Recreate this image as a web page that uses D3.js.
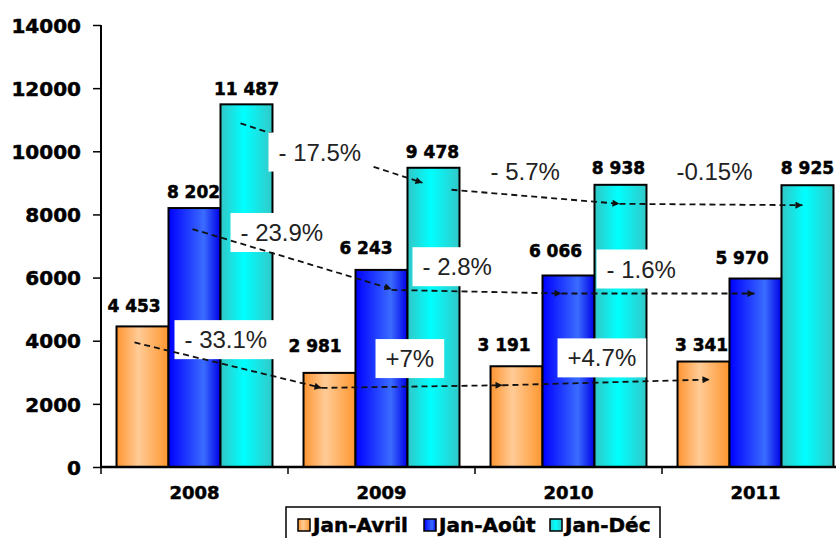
<!DOCTYPE html>
<html>
<head>
<meta charset="utf-8">
<script src="https://cdn.jsdelivr.net/npm/d3@7"></script>
<style>
  body { margin: 0; background: #fff; }
  svg { display: block; }
  .heavy { font-family: "DejaVu Sans", Verdana, sans-serif; font-weight: bold; stroke: #000; stroke-width: 0.5px; fill: #000; }
</style>
</head>
<body>
<div id="chart"></div>
<script>
// data
var years = ["2008", "2009", "2010", "2011"];
var seriesNames = ["Jan-Avril", "Jan-Août", "Jan-Déc"];
var janAvril = [4453, 2981, 3191, 3341];
var janAout = [8202, 6243, 6066, 5970];
var janDec = [11487, 9478, 8938, 8925];
var yTicks = [0, 2000, 4000, 6000, 8000, 10000, 12000, 14000];
// year to year change, one list per series
var changeAvril = ["- 33.1%", "+7%", "+4.7%"];
var changeAout = ["- 23.9%", "- 2.8%", "- 1.6%"];
var changeDec = ["- 17.5%", "- 5.7%", "-0.15%"];

var seriesValues = [janAvril, janAout, janDec];
var seriesChanges = [changeAvril, changeAout, changeDec];

// hand placed bits, as in the original sheet (pixel offsets)
var labelDx = [[-8.5, -14.5, -12.5, -2], [-1, -15.5, -13, -13.5], [0, -1, -2, 0]];
var labelGap = [[14, 21, 15, 11], [10, 16, 18, 15], [9, 10, 11, 11]];
// arrow ends: [startDx, startDy, endDx, endDy] from bar centre / bar top
var arrowOff = [
  [[-8, 16, -8, 15], [-8, 15, -14, 19], [-14, 19, 6, 18]],
  [[-2, 21, 10, 19], [10, 20, -7, 18], [-7, 18, -1, 15]],
  [[-6, 19, -11, 15], [18, 22, -1, 19], [-1, 19, -5, 20]]
];
// change text position from arrow midpoint
var changeOff = [
  [[-43.5, -17], [-26.5, -19.5], [-38.5, -16]],
  [[-51.5, -18], [-54, -16.5], [-51.5, -16]],
  [[-53, 7.5], [-45, -17], [-34.5, -24.5]]
];
var underBox = [[false, false, false], [false, false, false], [true, false, false]];

var width = 836, height = 538;
var svg = d3.select("#chart").append("svg")
    .attr("width", width)
    .attr("height", height);

var defs = svg.append("defs");
var grads = [
  [["0%", "#ff9430"], ["42%", "#ffcb96"], ["100%", "#ff962e"]],
  [["0%", "#0000ff"], ["68%", "#3a6cff"], ["100%", "#0000e6"]],
  [["0%", "#33c6c6"], ["45%", "#00ffff"], ["100%", "#33c8c8"]]
];
grads.forEach(function(g, i) {
  var lg = defs.append("linearGradient").attr("id", "g" + i)
      .attr("x1", "0%").attr("x2", "100%").attr("y1", "0%").attr("y2", "0%");
  g.forEach(function(s) {
    lg.append("stop").attr("offset", s[0]).attr("stop-color", s[1]);
  });
});
defs.append("marker")
    .attr("id", "arrow")
    .attr("viewBox", "0 0 10 10")
    .attr("refX", 10).attr("refY", 5)
    .attr("markerWidth", 10).attr("markerHeight", 7)
    .attr("markerUnits", "userSpaceOnUse")
    .attr("orient", "auto")
  .append("path")
    .attr("d", "M0,0L10,5L0,10Z")
    .attr("fill", "#111");

var y = d3.scaleLinear().domain([0, 14000]).range([467, 25]);
var x0 = d3.scaleBand().domain(years).range([101, 849])
    .paddingInner(0.166).paddingOuter(0.083);
var x1 = d3.scaleBand().domain(seriesNames).range([0, x0.bandwidth()]);

var fmt = d3.formatLocale({decimal: ",", thousands: " ", grouping: [3], currency: ["", ""]}).format(",");

function cx(s, i) {
  return x0(years[i]) + x1(seriesNames[s]) + x1.bandwidth() / 2;
}

// axes
var yAxis = svg.append("g").attr("transform", "translate(101,0)")
    .call(d3.axisLeft(y).tickValues(yTicks).tickSize(8).tickPadding(12).tickFormat(d3.format("d")));
yAxis.select(".domain").attr("d", "M0," + y(14000) + "V" + y(0)).attr("stroke-width", 2);
yAxis.selectAll(".tick line").attr("stroke-width", 1.5);
yAxis.selectAll("text")
    .attr("class", "heavy")
    .attr("dy", "0.36em")
    .style("font-size", "20px");

// bars
seriesValues.forEach(function(vals, s) {
  svg.append("g").selectAll("rect").data(vals).enter().append("rect")
      .attr("x", function(d, i) { return x0(years[i]) + x1(seriesNames[s]); })
      .attr("y", function(d) { return y(d); })
      .attr("width", x1.bandwidth())
      .attr("height", function(d) { return y(0) - y(d); })
      .attr("fill", "url(#g" + s + ")")
      .attr("stroke", "#000")
      .attr("stroke-width", 2);
});

// x axis
var step = x0.step();
svg.append("line")
    .attr("x1", 101).attr("x2", 836).attr("y1", y(0)).attr("y2", y(0))
    .attr("stroke", "#000").attr("stroke-width", 2.5);
svg.append("g").selectAll("line").data(d3.range(years.length + 1)).enter().append("line")
    .attr("x1", function(d) { return 101 + d * step; })
    .attr("x2", function(d) { return 101 + d * step; })
    .attr("y1", y(0)).attr("y2", y(0) + 7)
    .attr("stroke", "#000").attr("stroke-width", 1.5);
svg.append("g").selectAll("text").data(years).enter().append("text")
    .attr("class", "heavy")
    .attr("x", function(d) { return x0(d) + x0.bandwidth() / 2; })
    .attr("y", 499)
    .attr("text-anchor", "middle")
    .style("font-size", "18px")
    .text(function(d) { return d; });

// value labels
seriesValues.forEach(function(vals, s) {
  svg.append("g").selectAll("text").data(vals).enter().append("text")
      .attr("class", "heavy")
      .attr("x", function(d, i) { return cx(s, i) + labelDx[s][i]; })
      .attr("y", function(d, i) { return y(d) - labelGap[s][i]; })
      .attr("text-anchor", "middle")
      .style("font-size", "17px")
      .text(function(d) { return fmt(d); });
});

// change arrows + labels
var arrows = [];
seriesValues.forEach(function(vals, s) {
  for (var i = 0; i < vals.length - 1; i++) {
    var o = arrowOff[s][i];
    var a = {
      x1: cx(s, i) + o[0], y1: y(vals[i]) + o[1],
      x2: cx(s, i + 1) + o[2], y2: y(vals[i + 1]) + o[3],
      text: seriesChanges[s][i], under: underBox[s][i]
    };
    a.tx = (a.x1 + a.x2) / 2 + changeOff[s][i][0];
    a.ty = (a.y1 + a.y2) / 2 + changeOff[s][i][1];
    arrows.push(a);
  }
});

function drawArrows(list) {
  svg.append("g").selectAll("line").data(list).enter().append("line")
      .attr("x1", function(d) { return d.x1; })
      .attr("y1", function(d) { return d.y1; })
      .attr("x2", function(d) { return d.x2; })
      .attr("y2", function(d) { return d.y2; })
      .attr("stroke", "#111")
      .attr("stroke-width", 1.8)
      .attr("stroke-dasharray", "6,4")
      .attr("marker-end", "url(#arrow)");
}

drawArrows(arrows.filter(function(d) { return d.under; }));

var boxes = svg.append("g");
var changeText = svg.append("g");
var texts = changeText.selectAll("text").data(arrows).enter().append("text")
    .attr("x", function(d) { return d.tx; })
    .attr("y", function(d) { return d.ty; })
    .style("font-family", "Liberation Sans, Arial, sans-serif")
    .style("font-size", "24px")
    .attr("fill", "#222")
    .text(function(d) { return d.text; });
texts.each(function(d) { d.w = this.getComputedTextLength(); });
boxes.selectAll("rect").data(arrows).enter().append("rect")
    .attr("x", function(d) { return d.tx - 10; })
    .attr("y", function(d) { return d.ty - 28; })
    .attr("width", function(d) { return d.w + 20; })
    .attr("height", 39)
    .attr("fill", "#fff");

drawArrows(arrows.filter(function(d) { return !d.under; }));
changeText.raise();

// legend
var legend = svg.append("g");
legend.append("rect")
    .attr("x", 286).attr("y", 507).attr("width", 374).attr("height", 40)
    .attr("fill", "#fff").attr("stroke", "#000").attr("stroke-width", 1.5);
var item = legend.selectAll("g.item").data(seriesNames).enter().append("g")
    .attr("transform", function(d, i) { return "translate(" + (298 + i * 126) + ",519)"; });
item.append("rect")
    .attr("width", 12).attr("height", 12)
    .attr("fill", function(d, i) { return "url(#g" + i + ")"; })
    .attr("stroke", "#000").attr("stroke-width", 1.5);
item.append("text")
    .attr("class", "heavy")
    .attr("x", 15).attr("y", 13)
    .style("font-size", "20px")
    .text(function(d) { return d; });
</script>
</body>
</html>
